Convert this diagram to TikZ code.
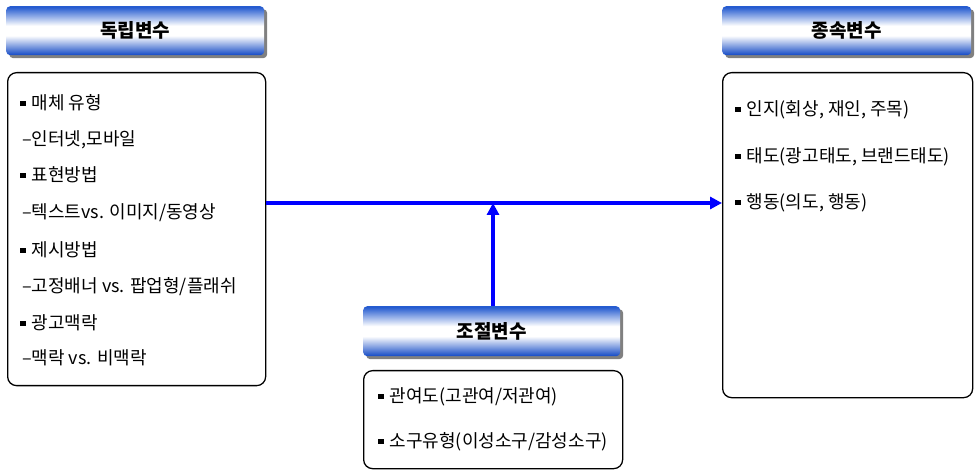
\documentclass[tikz,border=0pt]{standalone}
\usepackage{fontspec}
\setmainfont{Noto Sans CJK KR}
\usetikzlibrary{arrows.meta,shadows}
\definecolor{htop}{RGB}{38,92,208}
\definecolor{hbot}{RGB}{30,82,200}
\definecolor{arrblue}{RGB}{0,0,255}
\pgfdeclareverticalshading{hdrshade}{100bp}{color(0bp)=(hbot); color(26bp)=(hbot); color(45bp)=(white); color(55bp)=(white); color(74bp)=(htop); color(100bp)=(htop)}
\newcommand{\bul}{\raisebox{3.5pt}{\rule{5.5pt}{5.5pt}}\hspace{6pt}}
\begin{document}
\begin{tikzpicture}[x=1pt,y=-1pt,
  hdr/.style={anchor=north west, rounded corners=4pt, shading=hdrshade, draw=none,
    drop shadow={shadow xshift=3pt, shadow yshift=-3pt, fill=black!50, opacity=1},
    font=\fontsize{19}{21}\selectfont\bfseries, inner sep=0pt},
  vbox/.style={anchor=north west, draw=black, line width=1.3pt, rounded corners=9pt, inner sep=0pt},
  item/.style={anchor=west, inner sep=0pt, font=\fontsize{18}{20}\selectfont},
  conn/.style={draw=arrblue, line width=3.5pt, -{Triangle[length=12pt,width=12pt]}}
]
\useasboundingbox (0,0) rectangle (975,470);
% headers
\node[hdr, minimum width=258pt, minimum height=49pt] (lh) at (6,6) {독립변수};
\node[hdr, minimum width=249pt, minimum height=49pt] (rh) at (722,6) {종속변수};
\node[hdr, minimum width=257pt, minimum height=50pt] (ch) at (363,306) {조절변수};
% boxes
\node[vbox, minimum width=258pt, minimum height=313pt] (lb) at (7,72) {};
\node[vbox, minimum width=250pt, minimum height=325pt] (rb) at (722,72) {};
\node[vbox, minimum width=259pt, minimum height=98pt] (cb) at (363,370) {};
% left items
\node[item] (l1) at (20,103) {\bul 매체 유형};
\node[item] (l2) at (22,140) {–인터넷,모바일};
\node[item] (l3) at (20,175) {\bul 표현방법};
\node[item] (l4) at (22,213) {–텍스트vs. 이미지/동영상};
\node[item] (l5) at (20,250) {\bul 제시방법};
\node[item] (l6) at (22,287) {–고정배너 vs. 팝업형/플래쉬};
\node[item] (l7) at (20,323) {\bul 광고맥락};
\node[item] (l8) at (22,358) {–맥락 vs. 비맥락};
% right items
\node[item] (r1) at (735,110) {\bul 인지(회상, 재인, 주목)};
\node[item] (r2) at (735,157) {\bul 태도(광고태도, 브랜드태도)};
\node[item] (r3) at (735,203) {\bul 행동(의도, 행동)};
% center items
\node[item] (c1) at (378,397) {\bul 관여도(고관여/저관여)};
\node[item] (c2) at (378,442) {\bul 소구유형(이성소구/감성소구)};
% connectors
\coordinate (mid) at (493,203);
\draw[conn] (lb.east |- mid) -- (rb.west |- mid);
\draw[conn] (ch.north -| mid) -- (mid);
\end{tikzpicture}
\end{document}
